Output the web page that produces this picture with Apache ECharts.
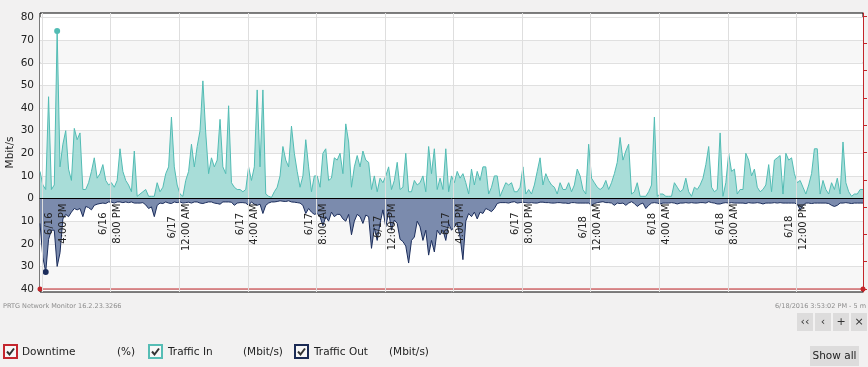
<!DOCTYPE html>
<html><head><meta charset="utf-8">
<script src="https://cdn.jsdelivr.net/npm/echarts@6/dist/echarts.min.js"></script>
<style>html,body{margin:0;padding:0;background:#f2f1f1;}#c{width:868px;height:367px;}</style>
</head><body><div id="c"></div>
<script>
// time base: hours since 6/16 00:00; first sample 6/16 3:53 PM, one sample every 10 minutes
const startHour = 15 + 53 / 60;
const stepMinutes = 10;
const spanHours = 48;

const trafficIn = [
 12, 6, 4, 45, 4, 6, 74, 14, 24, 30,
 13, 8, 31, 26, 29, 4, 4, 7, 12, 18,
 9, 11, 15, 8, 6, 7, 5, 8, 22, 12,
 8, 6, 3, 21, 1, 2, 3, 4, 1, 1,
 1, 7, 3, 5, 11, 14, 36, 14, 6, 2,
 1, 8, 12, 24, 14, 23, 30, 52, 29, 11,
 18, 14, 17, 35, 14, 11, 41, 7, 5, 4,
 4, 3, 4, 14, 8, 14, 48, 14, 48, 2,
 1, 0.5, 3, 5, 10, 23, 17, 14, 32, 20,
 12, 5, 10, 26, 14, 3, 10, 10, 5, 20,
 22, 8, 9, 18, 17, 20, 11, 33, 25, 5,
 14, 19, 14, 21, 17, 16, 4, 10, 3, 9,
 7, 10, 14, 4, 8, 16, 4, 5, 20, 3,
 3, 8, 6, 7, 10, 3, 23, 11, 22, 4,
 9, 4, 22, 3, 10, 7, 12, 9, 11, 7,
 2, 13, 6, 12, 8, 14, 14, 2, 5, 10,
 10, 1, 4, 7, 6, 7, 3, 3, 5, 14,
 2, 4, 2, 6, 12, 18, 6, 11, 8, 6,
 5, 2, 7, 4, 4, 7, 3, 6, 13, 10,
 4, 2, 24, 9, 7, 5, 4, 5, 8, 4,
 7, 11, 16, 27, 17, 21, 24, 2, 3, 7,
 1, 1, 1, 3, 6, 36, 1, 2, 2, 1,
 1, 1, 7, 5, 3, 4, 9, 3, 1, 5,
 4, 6, 9, 15, 23, 5, 3, 4, 29, 1,
 7, 20, 12, 13, 2, 4, 4, 20, 17, 10,
 13, 5, 3, 4, 6, 15, 3, 17, 18, 19,
 2, 20, 17, 18, 11, 7, 8, 5, 2, 6,
 11, 22, 22, 2, 8, 4, 2, 7, 4, 9,
 2, 25, 7, 3, 1, 2, 2, 4, 4
];

const trafficOut = [
 11, 26, 32.5, 18, 14, 14, 30, 24, 9, 7,
 8, 6, 4.4, 5, 4.4, 8, 3.5, 4, 5, 3,
 2.5, 2.2, 2, 2.2, 1.5, 1.6, 2, 1.5, 1.5, 1.8,
 1.5, 1.8, 1.5, 2, 2, 2, 1.8, 2.8, 4.4, 3.7,
 8, 3, 2, 2.2, 1.5, 2, 2.2, 1.5, 1.8, 1.5,
 2, 1.8, 1.6, 2, 1.5, 1.5, 2, 2.2, 1.8, 1.5,
 1.5, 2, 2.2, 2.5, 1.5, 1.5, 1.5, 1.6, 3, 2,
 1.8, 1.8, 2, 3, 1.5, 2.5, 3, 2.5, 6.6, 3,
 2, 1.5, 1.5, 1.3, 1, 1.2, 1.3, 1, 1.5, 1.6,
 1.8, 2, 3, 6.6, 4.4, 6, 7, 6.6, 8, 12,
 8, 10, 6, 8, 7, 7, 9, 10, 7, 16,
 10, 7, 8, 11, 7.3, 8, 22, 13, 18.5, 11,
 5, 12.5, 6, 14, 9.5, 11, 18, 19, 21, 28.5,
 18.5, 17, 10, 12.5, 18.5, 14, 25, 18.5, 23.6, 14,
 16, 14, 18.5, 11, 14, 12.5, 11, 17, 27, 10,
 6.6, 8, 6, 9, 6, 6.6, 4.4, 5, 5.8, 4.4,
 2.2, 1.8, 1.8, 1.8, 2, 1.6, 1.4, 2, 1.8, 1.6,
 1.8, 2, 1.8, 2, 2, 1.6, 1.6, 1.8, 1.8, 2,
 2, 1.8, 1.8, 2, 2, 2.2, 1.8, 1.8, 2, 2,
 2, 2, 2, 3, 2.2, 1.8, 1.6, 1.4, 1.8, 1.8,
 2, 3, 2, 2.2, 2, 3, 2, 1.4, 2.2, 3.5,
 2.5, 2, 4.4, 3, 2, 1.8, 2, 2.4, 2, 2,
 2, 1.8, 2, 2.4, 2, 2, 1.8, 2, 1.8, 2,
 2, 1.8, 1.8, 2, 1.4, 1.8, 2, 2.4, 2.4, 2,
 1.8, 2, 1.8, 2, 2, 2, 2, 2.2, 1.8, 2,
 2, 1.8, 2, 2.4, 2, 2, 2, 1.8, 2, 1.8,
 2, 2, 2, 2, 2, 2.5, 5, 3, 2, 2,
 2.2, 2, 2, 2, 2, 2, 2.2, 3, 3.5, 3,
 2, 2, 1.8, 2, 2.2, 2, 2, 2, 2
];

// downtime (%) at start and end of the range
const downtimeValues = [0, 0];

const tickHours = [16, 20, 24, 28, 32, 36, 40, 44, 48, 52, 56, 60];
const tickDates = ['6/16', '6/16', '6/17', '6/17', '6/17', '6/17', '6/17', '6/17', '6/18', '6/18', '6/18', '6/18'];
const tickTimes = ['4:00 PM', '8:00 PM', '12:00 AM', '4:00 AM', '8:00 AM', '12:00 PM', '4:00 PM', '8:00 PM', '12:00 AM', '4:00 AM', '8:00 AM', '12:00 PM'];
const yTicks = [-40, -30, -20, -10, 0, 10, 20, 30, 40, 50, 60, 70, 80];
const downtimeTicks = [0, 10, 20, 30, 40, 50, 60, 70, 80, 90, 100];

const F = 'DejaVu Sans';
const yMin = -41.3, yMax = 82;
const gridTop = 13, gridBottom = 75, H = 367;
const tAt = i => startHour + i * stepMinutes / 60;
const inData = trafficIn.map((v, i) => [tAt(i), v]);
const outData = trafficOut.map((v, i) => [tAt(i), -v]);
const dtData = [[startHour, downtimeValues[0]], [startHour + spanHours, downtimeValues[1]]];
// shift the x axis from the grid bottom up to the zero line
const plotH = H - gridTop - gridBottom;
const xOffset = -plotH * (0 - yMin) / (yMax - yMin);

const chart = echarts.init(document.getElementById('c'), null, {renderer: 'canvas'});

function box(x, color) {
  return [
    {type: 'rect', shape: {x: x, y: 345, width: 13, height: 13}, style: {fill: '#f7f7f7', stroke: color, lineWidth: 2}},
    {type: 'polyline', shape: {points: [[x + 3, 351.5], [x + 5.5, 354.5], [x + 10, 348.5]]}, style: {stroke: '#333', lineWidth: 2, fill: null}}
  ];
}
function txt(x, y, s, size, color, align) {
  return {type: 'text', x: x, y: y, style: {text: s, fontFamily: F, fontSize: size, fill: color, verticalAlign: 'middle', align: align || 'left'}};
}
const btns = [];
[['‹‹', 797], ['‹', 815], ['+', 833], ['×', 851]].forEach(b => {
  btns.push({type: 'rect', shape: {x: b[1], y: 313, width: 16, height: 18}, style: {fill: '#dddcdc'}});
  btns.push(txt(b[1] + 8, 322, b[0], 11, '#333', 'center'));
});

chart.setOption({
  animation: false,
  backgroundColor: '#f2f1f1',
  grid: {left: 40, right: 5, top: gridTop, bottom: gridBottom, outerBoundsMode: 'none', containLabel: false,
         show: true, backgroundColor: '#ffffff', borderColor: '#000', borderWidth: 1},
  xAxis: {
    type: 'value', min: startHour, max: startHour + spanHours, z: 10,
    position: 'bottom', offset: xOffset,
    axisLine: {show: true, onZero: false, lineStyle: {color: '#000', width: 1}},
    axisTick: {show: false, customValues: tickHours},
    splitLine: {show: true, lineStyle: {color: '#dedede', width: 1}},
    axisLabel: {
      customValues: tickHours, rotate: 90, margin: 5,
      formatter: function (v) {
        const k = tickHours.indexOf(Math.round(v));
        if (k < 0) return '';
        const pre = k === 0 ? '{s| }\n{s| }\n' : '';
        return pre + '{d|' + tickDates[k] + '}\n{t|' + tickTimes[k] + '}';
      },
      rich: {
        d: {align: 'center', lineHeight: 14, fontSize: 10, fontFamily: F, color: '#222'},
        t: {align: 'center', lineHeight: 14, fontSize: 10, fontFamily: F, color: '#222'},
        s: {lineHeight: 14, fontSize: 10, fontFamily: F}
      }
    }
  },
  yAxis: [{
    type: 'value', min: yMin, max: yMax,
    name: 'Mbit/s', nameLocation: 'middle', nameGap: 24, nameMoveOverlap: false,
    nameTextStyle: {fontFamily: F, fontSize: 10.5, color: '#222'},
    axisLine: {show: false},
    axisTick: {show: false, customValues: yTicks},
    axisLabel: {customValues: yTicks, formatter: v => String(Math.abs(v)), fontFamily: F, fontSize: 10.5, color: '#222', margin: 6},
    splitLine: {show: true, lineStyle: {color: '#e0e0e0', width: 1}},
    splitArea: {show: true, areaStyle: {color: ['#f7f7f7', '#ffffff']}}
  }, {
    type: 'value', position: 'right', min: -1.1, max: 101.1,
    axisLine: {show: true, lineStyle: {color: '#c3262a', width: 1}},
    axisTick: {show: true, inside: false, length: 4, customValues: downtimeTicks, lineStyle: {color: '#c3262a'}},
    axisLabel: {show: false, customValues: downtimeTicks},
    splitLine: {show: false}
  }],
  series: [{
    name: 'Traffic In', type: 'line', yAxisIndex: 0, data: inData, symbol: 'none',
    lineStyle: {color: '#52bcb4', width: 1}, areaStyle: {color: '#a8ddd8', opacity: 1},
    markPoint: {symbol: 'circle', symbolSize: 6, label: {show: false}, itemStyle: {color: '#52bcb4'}, data: [{type: 'max'}]},
    z: 2
  }, {
    name: 'Traffic Out', type: 'line', yAxisIndex: 0, data: outData, symbol: 'none',
    lineStyle: {color: '#1b2d5c', width: 1}, areaStyle: {color: '#7b8bad', opacity: 1},
    markPoint: {symbol: 'circle', symbolSize: 6, label: {show: false}, itemStyle: {color: '#1b2d5c'}, data: [{type: 'min'}]},
    z: 3
  }, {
    name: 'Downtime', type: 'line', yAxisIndex: 1, data: dtData, symbol: 'circle', symbolSize: 5, showSymbol: true,
    lineStyle: {color: '#c3262a', width: 1.2}, itemStyle: {color: '#c3262a'}, z: 4
  }],
  graphic: [].concat(
    [txt(3, 306, 'PRTG Network Monitor 16.2.23.3266', 6.5, '#8c8c8c'),
     txt(866, 306, '6/18/2016 3:53:02 PM - 5 m', 6.5, '#8c8c8c', 'right')],
    btns,
    [{type: 'rect', shape: {x: 810, y: 346, width: 49, height: 20}, style: {fill: '#dddcdc'}},
     txt(834.5, 356, 'Show all', 10.5, '#222', 'center')],
    box(4, '#c4262e'), [txt(22, 352, 'Downtime', 10.5, '#222'), txt(117, 352, '(%)', 10.5, '#222')],
    box(149, '#56bdb5'), [txt(168, 352, 'Traffic In', 10.5, '#222'), txt(243, 352, '(Mbit/s)', 10.5, '#222')],
    box(295, '#1b2b55'), [txt(314, 352, 'Traffic Out', 10.5, '#222'), txt(389, 352, '(Mbit/s)', 10.5, '#222')]
  )
});
</script></body></html>
